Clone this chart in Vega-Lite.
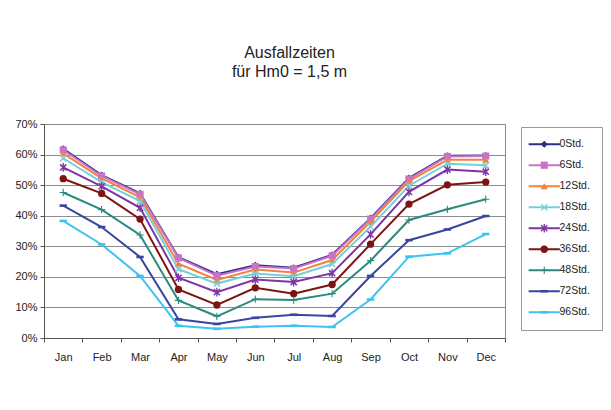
{
  "$schema": "https://vega.github.io/schema/vega-lite/v6.json",
  "width": 461,
  "height": 214,
  "autosize": {"type": "none"},
  "padding": {"left": 44, "top": 124, "right": 106, "bottom": 72},
  "background": "white",
  "config": {
    "font": "Liberation Sans",
    "view": {"stroke": "#8c8c8c", "strokeWidth": 1}
  },
  "title": {
    "text": ["Ausfallzeiten", "für Hm0 = 1,5 m"],
    "fontSize": 16,
    "fontWeight": "normal",
    "color": "#222222",
    "anchor": "middle",
    "frame": "group",
    "dx": 15,
    "offset": 38,
    "lineHeight": 19
  },
  "data": {
    "values": [
      {"Reihe": "0Std.", "Monat": "Jan", "Anteil": 0.619}, {"Reihe": "0Std.", "Monat": "Feb", "Anteil": 0.533}, {"Reihe": "0Std.", "Monat": "Mar", "Anteil": 0.473}, {"Reihe": "0Std.", "Monat": "Apr", "Anteil": 0.264}, {"Reihe": "0Std.", "Monat": "May", "Anteil": 0.209}, {"Reihe": "0Std.", "Monat": "Jun", "Anteil": 0.238}, {"Reihe": "0Std.", "Monat": "Jul", "Anteil": 0.230}, {"Reihe": "0Std.", "Monat": "Aug", "Anteil": 0.272}, {"Reihe": "0Std.", "Monat": "Sep", "Anteil": 0.392}, {"Reihe": "0Std.", "Monat": "Oct", "Anteil": 0.523}, {"Reihe": "0Std.", "Monat": "Nov", "Anteil": 0.596}, {"Reihe": "0Std.", "Monat": "Dec", "Anteil": 0.597},
      {"Reihe": "6Std.", "Monat": "Jan", "Anteil": 0.615}, {"Reihe": "6Std.", "Monat": "Feb", "Anteil": 0.530}, {"Reihe": "6Std.", "Monat": "Mar", "Anteil": 0.470}, {"Reihe": "6Std.", "Monat": "Apr", "Anteil": 0.262}, {"Reihe": "6Std.", "Monat": "May", "Anteil": 0.204}, {"Reihe": "6Std.", "Monat": "Jun", "Anteil": 0.234}, {"Reihe": "6Std.", "Monat": "Jul", "Anteil": 0.227}, {"Reihe": "6Std.", "Monat": "Aug", "Anteil": 0.269}, {"Reihe": "6Std.", "Monat": "Sep", "Anteil": 0.389}, {"Reihe": "6Std.", "Monat": "Oct", "Anteil": 0.520}, {"Reihe": "6Std.", "Monat": "Nov", "Anteil": 0.594}, {"Reihe": "6Std.", "Monat": "Dec", "Anteil": 0.595},
      {"Reihe": "12Std.", "Monat": "Jan", "Anteil": 0.604}, {"Reihe": "12Std.", "Monat": "Feb", "Anteil": 0.522}, {"Reihe": "12Std.", "Monat": "Mar", "Anteil": 0.460}, {"Reihe": "12Std.", "Monat": "Apr", "Anteil": 0.243}, {"Reihe": "12Std.", "Monat": "May", "Anteil": 0.190}, {"Reihe": "12Std.", "Monat": "Jun", "Anteil": 0.224}, {"Reihe": "12Std.", "Monat": "Jul", "Anteil": 0.214}, {"Reihe": "12Std.", "Monat": "Aug", "Anteil": 0.255}, {"Reihe": "12Std.", "Monat": "Sep", "Anteil": 0.380}, {"Reihe": "12Std.", "Monat": "Oct", "Anteil": 0.513}, {"Reihe": "12Std.", "Monat": "Nov", "Anteil": 0.583}, {"Reihe": "12Std.", "Monat": "Dec", "Anteil": 0.583},
      {"Reihe": "18Std.", "Monat": "Jan", "Anteil": 0.588}, {"Reihe": "18Std.", "Monat": "Feb", "Anteil": 0.510}, {"Reihe": "18Std.", "Monat": "Mar", "Anteil": 0.448}, {"Reihe": "18Std.", "Monat": "Apr", "Anteil": 0.225}, {"Reihe": "18Std.", "Monat": "May", "Anteil": 0.178}, {"Reihe": "18Std.", "Monat": "Jun", "Anteil": 0.211}, {"Reihe": "18Std.", "Monat": "Jul", "Anteil": 0.202}, {"Reihe": "18Std.", "Monat": "Aug", "Anteil": 0.242}, {"Reihe": "18Std.", "Monat": "Sep", "Anteil": 0.364}, {"Reihe": "18Std.", "Monat": "Oct", "Anteil": 0.498}, {"Reihe": "18Std.", "Monat": "Nov", "Anteil": 0.570}, {"Reihe": "18Std.", "Monat": "Dec", "Anteil": 0.565},
      {"Reihe": "24Std.", "Monat": "Jan", "Anteil": 0.558}, {"Reihe": "24Std.", "Monat": "Feb", "Anteil": 0.496}, {"Reihe": "24Std.", "Monat": "Mar", "Anteil": 0.426}, {"Reihe": "24Std.", "Monat": "Apr", "Anteil": 0.197}, {"Reihe": "24Std.", "Monat": "May", "Anteil": 0.150}, {"Reihe": "24Std.", "Monat": "Jun", "Anteil": 0.191}, {"Reihe": "24Std.", "Monat": "Jul", "Anteil": 0.183}, {"Reihe": "24Std.", "Monat": "Aug", "Anteil": 0.212}, {"Reihe": "24Std.", "Monat": "Sep", "Anteil": 0.339}, {"Reihe": "24Std.", "Monat": "Oct", "Anteil": 0.478}, {"Reihe": "24Std.", "Monat": "Nov", "Anteil": 0.551}, {"Reihe": "24Std.", "Monat": "Dec", "Anteil": 0.544},
      {"Reihe": "36Std.", "Monat": "Jan", "Anteil": 0.521}, {"Reihe": "36Std.", "Monat": "Feb", "Anteil": 0.473}, {"Reihe": "36Std.", "Monat": "Mar", "Anteil": 0.389}, {"Reihe": "36Std.", "Monat": "Apr", "Anteil": 0.159}, {"Reihe": "36Std.", "Monat": "May", "Anteil": 0.108}, {"Reihe": "36Std.", "Monat": "Jun", "Anteil": 0.164}, {"Reihe": "36Std.", "Monat": "Jul", "Anteil": 0.145}, {"Reihe": "36Std.", "Monat": "Aug", "Anteil": 0.175}, {"Reihe": "36Std.", "Monat": "Sep", "Anteil": 0.307}, {"Reihe": "36Std.", "Monat": "Oct", "Anteil": 0.438}, {"Reihe": "36Std.", "Monat": "Nov", "Anteil": 0.501}, {"Reihe": "36Std.", "Monat": "Dec", "Anteil": 0.510},
      {"Reihe": "48Std.", "Monat": "Jan", "Anteil": 0.476}, {"Reihe": "48Std.", "Monat": "Feb", "Anteil": 0.420}, {"Reihe": "48Std.", "Monat": "Mar", "Anteil": 0.337}, {"Reihe": "48Std.", "Monat": "Apr", "Anteil": 0.123}, {"Reihe": "48Std.", "Monat": "May", "Anteil": 0.071}, {"Reihe": "48Std.", "Monat": "Jun", "Anteil": 0.127}, {"Reihe": "48Std.", "Monat": "Jul", "Anteil": 0.124}, {"Reihe": "48Std.", "Monat": "Aug", "Anteil": 0.145}, {"Reihe": "48Std.", "Monat": "Sep", "Anteil": 0.253}, {"Reihe": "48Std.", "Monat": "Oct", "Anteil": 0.386}, {"Reihe": "48Std.", "Monat": "Nov", "Anteil": 0.421}, {"Reihe": "48Std.", "Monat": "Dec", "Anteil": 0.454},
      {"Reihe": "72Std.", "Monat": "Jan", "Anteil": 0.433}, {"Reihe": "72Std.", "Monat": "Feb", "Anteil": 0.363}, {"Reihe": "72Std.", "Monat": "Mar", "Anteil": 0.265}, {"Reihe": "72Std.", "Monat": "Apr", "Anteil": 0.061}, {"Reihe": "72Std.", "Monat": "May", "Anteil": 0.046}, {"Reihe": "72Std.", "Monat": "Jun", "Anteil": 0.066}, {"Reihe": "72Std.", "Monat": "Jul", "Anteil": 0.076}, {"Reihe": "72Std.", "Monat": "Aug", "Anteil": 0.072}, {"Reihe": "72Std.", "Monat": "Sep", "Anteil": 0.203}, {"Reihe": "72Std.", "Monat": "Oct", "Anteil": 0.320}, {"Reihe": "72Std.", "Monat": "Nov", "Anteil": 0.355}, {"Reihe": "72Std.", "Monat": "Dec", "Anteil": 0.399},
      {"Reihe": "96Std.", "Monat": "Jan", "Anteil": 0.383}, {"Reihe": "96Std.", "Monat": "Feb", "Anteil": 0.306}, {"Reihe": "96Std.", "Monat": "Mar", "Anteil": 0.203}, {"Reihe": "96Std.", "Monat": "Apr", "Anteil": 0.040}, {"Reihe": "96Std.", "Monat": "May", "Anteil": 0.030}, {"Reihe": "96Std.", "Monat": "Jun", "Anteil": 0.037}, {"Reihe": "96Std.", "Monat": "Jul", "Anteil": 0.040}, {"Reihe": "96Std.", "Monat": "Aug", "Anteil": 0.036}, {"Reihe": "96Std.", "Monat": "Sep", "Anteil": 0.126}, {"Reihe": "96Std.", "Monat": "Oct", "Anteil": 0.266}, {"Reihe": "96Std.", "Monat": "Nov", "Anteil": 0.277}, {"Reihe": "96Std.", "Monat": "Dec", "Anteil": 0.340}
    ]
  },
  "encoding": {
    "x": {
      "field": "Monat",
      "type": "ordinal",
      "sort": ["Jan", "Feb", "Mar", "Apr", "May", "Jun", "Jul", "Aug", "Sep", "Oct", "Nov", "Dec"],
      "scale": {"type": "band", "paddingInner": 0, "paddingOuter": 0},
      "axis": {
        "title": null,
        "labelAngle": 0,
        "tickBand": "extent",
        "tickSize": 4,
        "labelPadding": 9,
        "labelFontSize": 11,
        "labelColor": "#222222",
        "domainColor": "#555555",
        "tickColor": "#555555",
        "grid": false
      }
    },
    "y": {
      "field": "Anteil",
      "type": "quantitative",
      "scale": {"domain": [0, 0.7], "nice": false},
      "axis": {
        "title": null,
        "format": ".0%",
        "values": [0, 0.1, 0.2, 0.3, 0.4, 0.5, 0.6, 0.7],
        "tickSize": 4,
        "labelPadding": 3,
        "labelFontSize": 11,
        "labelColor": "#222222",
        "domainColor": "#555555",
        "tickColor": "#555555",
        "grid": true,
        "gridColor": "#8c8c8c",
        "gridOpacity": 1
      }
    }
  },
  "layer": [
    {
      "mark": {"type": "line", "strokeWidth": 2},
      "encoding": {
        "stroke": {
          "field": "Reihe",
          "type": "nominal",
          "sort": null,
          "scale": {
            "range": ["#2d2d8a", "#c873c8", "#f5813f", "#74d0dc", "#7e34a6", "#7d1414", "#2a8a7c", "#3a45a0", "#3ec3ef"]
          },
          "legend": {
            "orient": "none",
            "legendX": 477,
            "legendY": 3,
            "title": null,
            "padding": 12,
            "strokeColor": "#999999",
            "symbolType": "M-5.2,0H5.2",
            "symbolSize": 36,
            "symbolStrokeWidth": 2,
            "symbolOffset": 6,
            "labelOffset": 10,
            "labelFontSize": 10.5,
            "labelColor": "#222222",
            "rowPadding": 10
          }
        }
      }
    },
    {
      "mark": {"type": "point", "filled": true, "opacity": 1},
      "encoding": {
        "color": {
          "field": "Reihe",
          "type": "nominal",
          "scale": {
            "domain": ["0Std.", "6Std.", "12Std.", "18Std.", "24Std.", "36Std.", "48Std.", "72Std.", "96Std."],
            "range": ["#2d2d8a", "#c873c8", "#f5813f", "#74d0dc", "#7e34a6", "#7d1414", "#2a8a7c", "#3a45a0", "#3ec3ef"]
          },
          "legend": {
            "orient": "none",
            "legendX": 477,
            "legendY": 3,
            "title": null,
            "padding": 12,
            "strokeColor": null,
            "symbolSize": 36,
            "symbolOffset": 6,
            "labelOffset": 10,
            "labelFontSize": 10.5,
            "labelExpr": "''",
            "rowPadding": 10
          }
        },
        "shape": {
          "field": "Reihe",
          "type": "nominal",
          "scale": {
            "domain": ["0Std.", "6Std.", "12Std.", "18Std.", "24Std.", "36Std.", "48Std.", "72Std.", "96Std."],
            "range": [
              "diamond",
              "square",
              "triangle-up",
              "M-1,-0.7L-0.7,-1L1,0.7L0.7,1ZM-1,0.7L0.7,-1L1,-0.7L-0.7,1Z",
              "M-1,-0.7L-0.7,-1L1,0.7L0.7,1ZM-1,0.7L0.7,-1L1,-0.7L-0.7,1ZM-0.18,-1.2H0.18V1.2H-0.18Z",
              "circle",
              "M-1,-0.15H-0.15V-1H0.15V-0.15H1V0.15H0.15V1H-0.15V0.15H-1Z",
              "M-1,-0.35H1V0.35H-1Z",
              "M-1,-0.35H1V0.35H-1Z"
            ]
          },
          "legend": {
            "orient": "none",
            "legendX": 477,
            "legendY": 3,
            "title": null,
            "padding": 12,
            "strokeColor": null,
            "symbolSize": 36,
            "symbolOffset": 6,
            "labelOffset": 10,
            "labelFontSize": 10.5,
            "labelExpr": "''",
            "rowPadding": 10
          }
        },
        "size": {
          "field": "Reihe",
          "type": "nominal",
          "scale": {
            "domain": ["0Std.", "6Std.", "12Std.", "18Std.", "24Std.", "36Std.", "48Std.", "72Std.", "96Std."],
            "range": [50, 55, 55, 55, 75, 85, 90, 50, 55]
          },
          "legend": null
        }
      }
    }
  ]
}
